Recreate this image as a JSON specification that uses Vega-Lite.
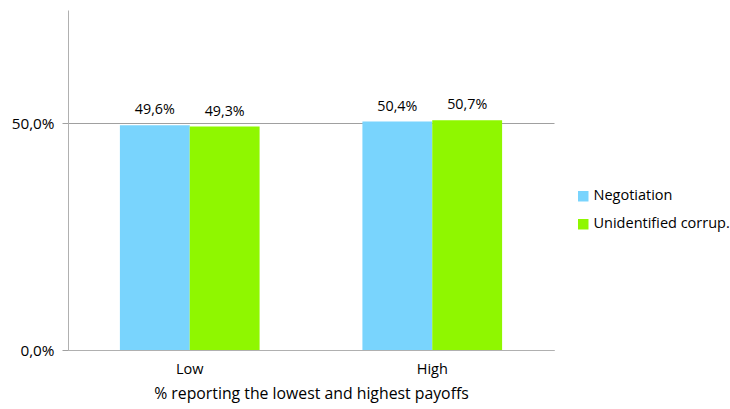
{
  "$schema": "https://vega.github.io/schema/vega-lite/v6.json",
  "width": 486,
  "height": 340,
  "autosize": {"type": "none"},
  "padding": {"left": 68, "top": 10, "right": 176, "bottom": 59},
  "background": "white",
  "data": {
    "values": [
      {"payoff": "Low", "treatment": "Negotiation", "value": 0.496},
      {"payoff": "Low", "treatment": "Unidentified corrup.", "value": 0.493},
      {"payoff": "High", "treatment": "Negotiation", "value": 0.504},
      {"payoff": "High", "treatment": "Unidentified corrup.", "value": 0.507}
    ]
  },
  "encoding": {
    "x": {
      "field": "payoff",
      "type": "nominal",
      "sort": ["Low", "High"],
      "scale": {"paddingInner": 0.424, "paddingOuter": 0.214},
      "title": "% reporting the lowest and highest payoffs",
      "axis": {
        "labelAngle": 0,
        "ticks": false,
        "domainColor": "#b0b0b0",
        "labelFontSize": 14.5,
        "labelPadding": 12,
        "labelColor": "#000",
        "titleFontSize": 15.8,
        "titleFontWeight": "normal",
        "titleColor": "#000",
        "titlePadding": 11
      }
    },
    "xOffset": {"field": "treatment", "type": "nominal", "sort": ["Negotiation", "Unidentified corrup."]},
    "y": {
      "field": "value",
      "type": "quantitative",
      "scale": {"domain": [0, 0.75], "nice": false},
      "title": null,
      "axis": {
        "values": [0, 0.5],
        "format": ".1%",
        "grid": true,
        "gridColor": "#a0a0a0",
        "domainColor": "#b0b0b0",
        "tickColor": "#a0a0a0",
        "tickSize": 6,
        "labelFontSize": 15.3,
        "labelColor": "#000",
        "labelPadding": 8
      }
    }
  },
  "layer": [
    {
      "mark": {"type": "bar"},
      "encoding": {
        "color": {
          "field": "treatment",
          "type": "nominal",
          "sort": ["Negotiation", "Unidentified corrup."],
          "scale": {"range": ["#79d4fd", "#8ff700"]},
          "legend": {
            "title": null,
            "orient": "none",
            "legendX": 508,
            "legendY": 179,
            "symbolType": "square",
            "symbolSize": 110,
            "symbolStrokeWidth": 0,
            "labelFontSize": 14.5,
            "labelColor": "#000",
            "labelOffset": 3,
            "rowPadding": 13
          }
        }
      }
    },
    {
      "mark": {"type": "text", "baseline": "bottom", "dy": -8, "fontSize": 14.3, "color": "#000"},
      "encoding": {
        "text": {"field": "value", "type": "quantitative", "format": ".1%"}
      }
    }
  ],
  "config": {
    "font": "Open Sans",
    "view": {"stroke": null},
    "locale": {
      "number": {"decimal": ",", "thousands": ".", "grouping": [3], "currency": ["", " €"]}
    }
  }
}
